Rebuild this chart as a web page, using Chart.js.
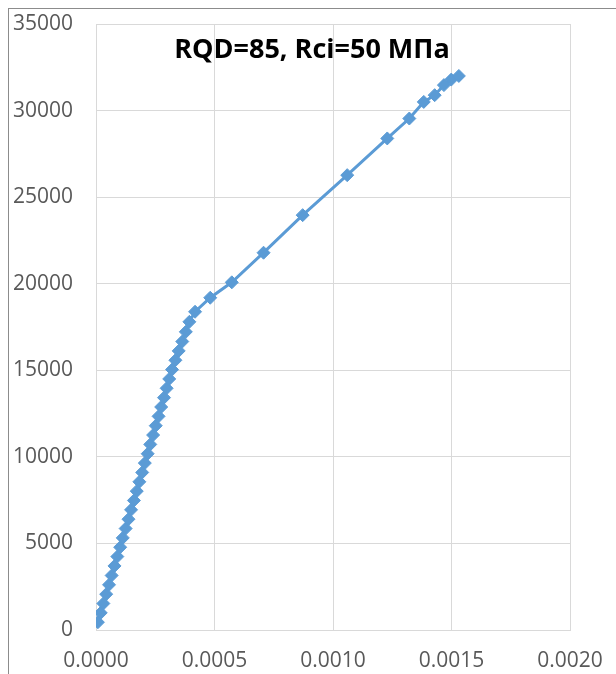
<!DOCTYPE html>
<html>
<head>
<meta charset="utf-8">
<script src="https://cdn.jsdelivr.net/npm/chart.js@4"></script>
<style>
  html, body { margin: 0; padding: 0; background: #fff; }
  body { width: 616px; height: 674px; position: relative; overflow: hidden; }
  .frame {
    position: absolute; left: 8px; top: 8px; width: 800px; height: 800px;
    border-left: 1px solid #8c8c8c; border-top: 1px solid #8c8c8c;
  }
  #wrap { position: absolute; left: 0; top: 0; width: 616px; height: 674px; }
</style>
</head>
<body>
<div class="frame"></div>
<div id="wrap"><canvas id="chart"></canvas></div>
<script>
// strain (x) and stress (y) readings along the loading curve
const strainValues = [
  0.000008, 0.000020, 0.000031, 0.000043, 0.000055, 0.000066, 0.000078, 0.000090,
  0.000102, 0.000113, 0.000125, 0.000137, 0.000148, 0.000160, 0.000172, 0.000183,
  0.000195, 0.000206, 0.000218, 0.000229, 0.000241, 0.000252, 0.000264, 0.000275,
  0.000287, 0.000298, 0.000309, 0.000321, 0.000335, 0.000349, 0.000364, 0.000379,
  0.000394, 0.000418, 0.000482, 0.000573, 0.000707, 0.000872, 0.001060, 0.001229,
  0.001322, 0.001383, 0.001429, 0.001468, 0.001499, 0.001531
]
const stressValues = [
  450, 990, 1530, 2070, 2610, 3150, 3700, 4240,
  4780, 5320, 5860, 6400, 6940, 7480, 8020, 8560,
  9100, 9640, 10180, 10720, 11260, 11800, 12340, 12880,
  13420, 13960, 14500, 15040, 15580, 16120, 16660, 17220,
  17800, 18380, 19190, 20080, 21790, 23960, 26270, 28390,
  29540, 30500, 30890, 31470, 31790, 32000
]
const xTicks = [0, 0.0005, 0.001, 0.0015, 0.002]
const yTicks = [0, 5000, 10000, 15000, 20000, 25000, 30000, 35000]
const chartTitle = 'RQD=85, Rci=50 МПа'

const points = strainValues.map((x, i) => ({ x: x, y: stressValues[i] }))

const tickFont = { family: "'Open Sans', sans-serif", size: 21 }
const gridColor = '#d9d9d9'

// title sits inside the plot area, near the top
const innerTitle = {
  id: 'innerTitle',
  afterDraw(chart) {
    const ctx = chart.ctx
    ctx.save()
    ctx.font = "bold 27px 'Open Sans', sans-serif"
    ctx.fillStyle = '#000'
    ctx.textAlign = 'center'
    ctx.textBaseline = 'middle'
    ctx.fillText(chartTitle, 312, 50)
    ctx.restore()
  }
}

new Chart(document.getElementById('chart'), {
  type: 'scatter',
  data: {
    datasets: [{
      data: points,
      showLine: true,
      borderColor: '#5b9bd5',
      backgroundColor: '#5b9bd5',
      borderWidth: 3,
      pointStyle: 'rectRot',
      pointRadius: 6.5,
      pointBorderWidth: 1,
      pointBorderColor: '#5b9bd5',
      pointBackgroundColor: '#5b9bd5',
      tension: 0
    }]
  },
  options: {
    responsive: true,
    maintainAspectRatio: false,
    animation: false,
    layout: { padding: { left: 10, right: 46, top: 24, bottom: 0 } },
    plugins: {
      legend: { display: false },
      tooltip: { enabled: false },
      title: { display: false }
    },
    scales: {
      x: {
        type: 'linear',
        min: xTicks[0],
        max: xTicks[xTicks.length - 1],
        afterBuildTicks: s => { s.ticks = xTicks.map(v => ({ value: v })) },
        afterFit: s => {
          s.height = 44
          s.paddingLeft = 0
          s.paddingRight = 0
        },
        grid: { color: gridColor, lineWidth: 1, drawTicks: false },
        border: { color: gridColor, width: 1 },
        ticks: {
          font: tickFont,
          color: '#595959',
          padding: 18,
          maxRotation: 0,
          callback: v => Number(v).toFixed(4)
        }
      },
      y: {
        type: 'linear',
        min: yTicks[0],
        max: yTicks[yTicks.length - 1],
        afterBuildTicks: s => { s.ticks = yTicks.map(v => ({ value: v })) },
        afterFit: s => {
          s.width = 86
          s.paddingTop = 0
          s.paddingBottom = 0
        },
        grid: { color: gridColor, lineWidth: 1, drawTicks: false },
        border: { color: gridColor, width: 1 },
        ticks: {
          font: tickFont,
          color: '#595959',
          padding: 23,
          callback: v => String(v)
        }
      }
    }
  },
  plugins: [innerTitle]
})
</script>
</body>
</html>
